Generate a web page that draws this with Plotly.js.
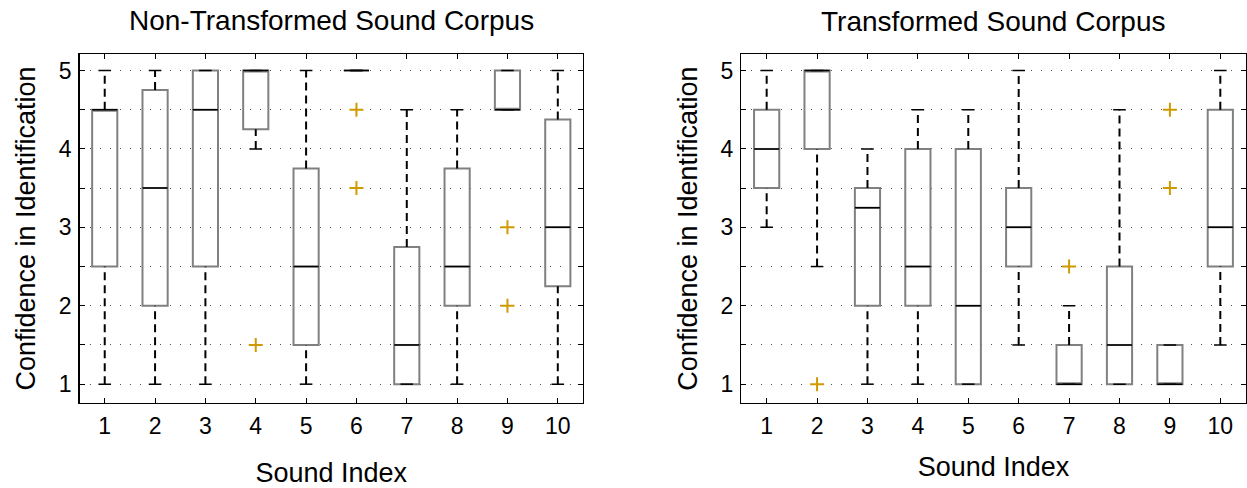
<!DOCTYPE html>
<html>
<head>
<meta charset="utf-8">
<script src="https://cdn.plot.ly/plotly-3.0.1.min.js"></script>
<style>html,body{margin:0;padding:0;background:#fff;}#chart{width:1247px;height:488px;}</style>
</head>
<body>
<div id="chart"></div>
<script>
// ---- data ----
const categories = [1, 2, 3, 4, 5, 6, 7, 8, 9, 10];
const yTickVals = [1, 1.5, 2, 2.5, 3, 3.5, 4, 4.5, 5];
const yTickText = ["1", "", "2", "", "3", "", "4", "", "5"];

// Non-Transformed Sound Corpus
const ntLower  = [1,   1,    1,   4,    1,    5, 1,    1,    4.5, 1];
const ntQ1     = [2.5, 2,    2.5, 4.25, 1.5,  5, 1,    2,    4.5, 2.25];
const ntMedian = [4.5, 3.5,  4.5, 5,    2.5,  5, 1.5,  2.5,  4.5, 3];
const ntQ3     = [4.5, 4.75, 5,   5,    3.75, 5, 2.75, 3.75, 5,   4.375];
const ntUpper  = [5,   5,    5,   5,    5,    5, 4.5,  4.5,  5,   5];
const ntOutX   = [4,   6,   6,   9, 9];
const ntOutY   = [1.5, 4.5, 3.5, 3, 2];

// Transformed Sound Corpus
const tLower  = [3,   2.5, 1,    1,   1,   1.5, 1,   1,   1,   1.5];
const tQ1     = [3.5, 4,   2,    2,   1,   2.5, 1,   1,   1,   2.5];
const tMedian = [4,   5,   3.25, 2.5, 2,   3,   1,   1.5, 1,   3];
const tQ3     = [4.5, 5,   3.5,  4,   4,   3.5, 1.5, 2.5, 1.5, 4.5];
const tUpper  = [5,   5,   4,    4.5, 4.5, 5,   2,   4.5, 1.5, 5];
const tOutX   = [2, 7,   9,   9];
const tOutY   = [1, 2.5, 4.5, 3.5];

// ---- styles ----
const FONT = "Liberation Sans, Arial, Helvetica, sans-serif";
const BOX_COLOR = "#808080";
const OUT_COLOR = "#cf9a00";
const BOX_W = 0.5, CAP_W = 0.25;

function buildTraces(lower, q1, med, q3, upper, outX, outY, xa, ya) {
  const wx = [], wy = [], cx = [], cy = [], mx = [], my = [];
  categories.forEach((c, i) => {
    if (upper[i] > q3[i]) { wx.push(c, c, null); wy.push(q3[i], upper[i], null); }
    if (lower[i] < q1[i]) { wx.push(c, c, null); wy.push(lower[i], q1[i], null); }
    cx.push(c - CAP_W / 2, c + CAP_W / 2, null); cy.push(upper[i], upper[i], null);
    cx.push(c - CAP_W / 2, c + CAP_W / 2, null); cy.push(lower[i], lower[i], null);
    mx.push(c - BOX_W / 2, c + BOX_W / 2, null); my.push(med[i], med[i], null);
  });
  return [
    { type: "scatter", mode: "lines", x: wx, y: wy, xaxis: xa, yaxis: ya,
      line: { color: "#000", width: 2, dash: "8px,5px" }, hoverinfo: "skip", connectgaps: false },
    { type: "scatter", mode: "lines", x: cx, y: cy, xaxis: xa, yaxis: ya,
      line: { color: "#000", width: 1.5 }, hoverinfo: "skip", connectgaps: false },
    { type: "box", x: categories, q1: q1, median: med, q3: q3,
      lowerfence: q1, upperfence: q3, width: BOX_W, whiskerwidth: 0,
      xaxis: xa, yaxis: ya, boxpoints: false,
      fillcolor: "rgba(255,255,255,0)", line: { color: BOX_COLOR, width: 2 }, hoverinfo: "skip" },
    { type: "scatter", mode: "lines", x: mx, y: my, xaxis: xa, yaxis: ya,
      line: { color: "#000", width: 1.5 }, hoverinfo: "skip", connectgaps: false },
    { type: "scatter", mode: "markers", x: outX, y: outY, xaxis: xa, yaxis: ya,
      marker: { symbol: "cross-thin-open", size: 10, color: OUT_COLOR, line: { color: OUT_COLOR, width: 2 } },
      hoverinfo: "skip" }
  ];
}

const traces = [].concat(
  buildTraces(ntLower, ntQ1, ntMedian, ntQ3, ntUpper, ntOutX, ntOutY, "x", "y"),
  buildTraces(tLower, tQ1, tMedian, tQ3, tUpper, tOutX, tOutY, "x2", "y2")
);

function xAxis(domain, anchor, standoff) {
  return {
    domain: domain, anchor: anchor, range: [0.5, 10.5],
    tickvals: categories, ticktext: categories.map(String),
    ticks: "inside", ticklen: 5, tickcolor: "#000", tickwidth: 1,
    showline: true, linecolor: "#000", linewidth: 1.5, mirror: "ticks",
    showgrid: false, zeroline: false, ticklabelstandoff: 2,
    tickfont: { family: FONT, size: 23, color: "#000" },
    title: { text: "Sound Index", font: { family: FONT, size: 27, color: "#000" }, standoff: standoff },
    automargin: false
  };
}
function yAxis(domain, anchor) {
  return {
    domain: domain, anchor: anchor, range: [0.76, 5.21],
    tickvals: yTickVals, ticktext: yTickText,
    ticks: "inside", ticklen: 5, tickcolor: "#000", tickwidth: 1,
    showline: true, linecolor: "#000", linewidth: 1.5, mirror: "ticks",
    showgrid: true, gridcolor: "#555", gridwidth: 1, griddash: "1px,9px",
    zeroline: false, ticklabelstandoff: 2,
    tickfont: { family: FONT, size: 23, color: "#000" },
    title: { text: "Confidence in Identification", font: { family: FONT, size: 27, color: "#000" }, standoff: 15 },
    automargin: false
  };
}

const layout = {
  width: 1247, height: 488,
  margin: { l: 0, r: 0, t: 0, b: 0 },
  paper_bgcolor: "#fff", plot_bgcolor: "#fff",
  showlegend: false,
  font: { family: FONT, color: "#000" },
  xaxis: xAxis([0.0638, 0.4675], "y", 25),
  yaxis: yAxis([0.1742, 0.8893], "x"),
  xaxis2: xAxis([0.5946, 0.9988], "y2", 19),
  yaxis2: yAxis([0.1742, 0.8893], "x2"),
  annotations: [
    { text: "Non-Transformed Sound Corpus", xref: "paper", yref: "paper",
      x: (0.0638 + 0.4675) / 2, y: 1 - 20 / 488, xanchor: "center", yanchor: "middle",
      showarrow: false, font: { family: FONT, size: 28, color: "#000" } },
    { text: "Transformed Sound Corpus", xref: "paper", yref: "paper",
      x: (0.5946 + 0.9988) / 2, y: 1 - 22 / 488, xanchor: "center", yanchor: "middle",
      showarrow: false, font: { family: FONT, size: 28, color: "#000" } }
  ]
};

Plotly.newPlot("chart", traces, layout, { staticPlot: true, displayModeBar: false });
</script>
</body>
</html>
